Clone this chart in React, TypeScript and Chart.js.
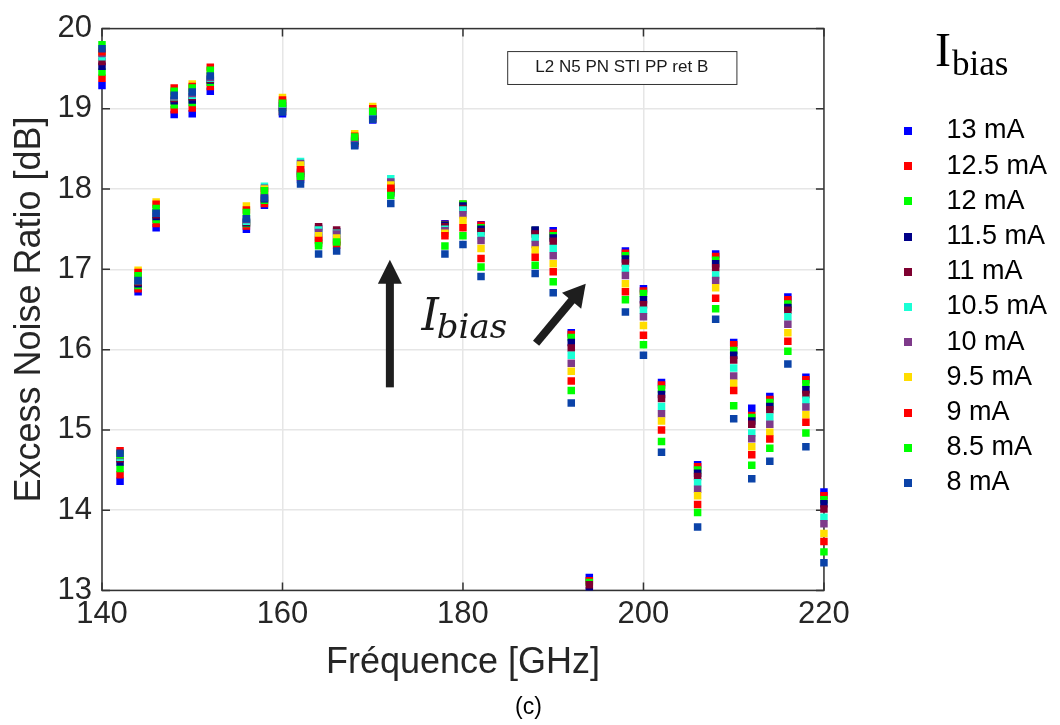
import React, { useEffect, useRef } from 'react';
import { Chart, registerables } from 'chart.js';

Chart.register(...registerables);

// ---------- data ----------
const frequencies = [140, 142, 144, 146, 148, 150, 152, 156, 158, 160, 162, 164, 166, 168, 170, 172, 178, 180, 182, 188, 190, 192, 194, 198, 200, 202, 206, 208, 210, 212, 214, 216, 218, 220];

const currents = ['13 mA', '12.5 mA', '12 mA', '11.5 mA', '11 mA', '10.5 mA', '10 mA', '9.5 mA', '9 mA', '8.5 mA', '8 mA'];

const colors = ['#0000ff', '#ff0000', '#00ff00', '#000088', '#7e0030', '#1affd5', '#7e3a8a', '#ffdd00', '#ff0000', '#00ff00', '#0b43a8'];

const enr13 = [19.29, 14.36, 16.72, 17.52, 18.93, 18.94, 19.22, 17.50, 17.80, 18.94, 18.12, 17.40, 17.37, 18.55, 18.86, 17.95, 17.57, 17.80, 17.555, 17.48, 17.48, 16.21, 13.16, 17.23, 16.76, 15.59, 14.565, 17.19, 16.09, 15.27, 15.415, 16.655, 15.655, 14.225];
const enr12_5 = [19.38, 14.44, 16.76, 17.57, 18.99, 19.01, 19.28, 17.54, 17.82, 18.97, 18.15, 17.37, 17.35, 18.57, 18.88, 17.97, 17.56, 17.81, 17.55, 17.48, 17.45, 16.19, 13.12, 17.20, 16.73, 15.56, 14.54, 17.16, 16.06, 15.18, 15.38, 16.62, 15.625, 14.18];
const enr12 = [19.46, 14.52, 16.80, 17.62, 19.05, 19.08, 19.33, 17.57, 17.86, 19.00, 18.18, 17.33, 17.33, 18.59, 18.90, 17.99, 17.55, 17.815, 17.52, 17.485, 17.42, 16.15, 13.10, 17.17, 16.70, 15.51, 14.50, 17.115, 15.99, 15.155, 15.34, 16.57, 15.575, 14.13];
const enr11_5 = [19.53, 14.60, 16.82, 17.66, 19.10, 19.11, 19.36, 17.58, 17.88, 19.02, 18.20, 17.51, 17.47, 18.60, 18.92, 18.00, 17.55, 17.79, 17.50, 17.49, 17.39, 16.09, 12.99, 17.13, 16.62, 15.44, 14.46, 17.07, 15.93, 15.11, 15.29, 16.525, 15.50, 14.08];
const enr11 = [19.59, 14.64, 16.84, 17.68, 19.13, 19.15, 19.37, 17.59, 17.90, 19.04, 18.22, 17.53, 17.49, 18.61, 18.94, 18.03, 17.53, 17.76, 17.47, 17.44, 17.35, 16.02, 13.07, 17.08, 16.56, 15.39, 14.42, 17.02, 15.87, 15.07, 15.25, 16.49, 15.44, 14.015];
const enr10_5 = [19.65, 14.66, 16.86, 17.70, 19.15, 19.17, 19.38, 17.60, 18.035, 19.06, 18.345, 17.49, 17.45, 18.62, 18.96, 18.13, 17.50, 17.74, 17.42, 17.39, 17.26, 15.93, 12.92, 17.01, 16.49, 15.29, 14.34, 16.93, 15.77, 14.96, 15.16, 16.41, 15.37, 13.91];
const enr10 = [19.69, 14.68, 16.88, 17.71, 19.16, 19.19, 19.39, 17.62, 18.01, 19.08, 18.32, 17.46, 17.44, 18.63, 18.98, 18.09, 17.48, 17.68, 17.36, 17.31, 17.17, 15.83, 12.82, 16.925, 16.41, 15.20, 14.26, 16.86, 15.67, 14.89, 15.07, 16.315, 15.285, 13.83];
const enr9_5 = [19.72, 14.70, 16.99, 17.84, 19.20, 19.31, 19.47, 17.79, 18.00, 19.14, 18.30, 17.42, 17.39, 18.69, 19.03, 18.05, 17.45, 17.61, 17.26, 17.24, 17.07, 15.73, 12.72, 16.82, 16.30, 15.11, 14.18, 16.77, 15.58, 14.79, 14.97, 16.21, 15.19, 13.71];
const enr9 = [19.71, 14.74, 16.96, 17.81, 19.26, 19.28, 19.52, 17.74, 17.98, 19.11, 18.24, 17.36, 17.30, 18.66, 19.00, 18.01, 17.42, 17.52, 17.135, 17.15, 16.97, 15.61, 12.60, 16.72, 16.18, 15.00, 14.07, 16.64, 15.49, 14.69, 14.885, 16.105, 15.095, 13.61];
const enr8_5 = [19.80, 14.69, 16.92, 17.76, 19.22, 19.26, 19.48, 17.71, 17.98, 19.07, 18.16, 17.295, 17.34, 18.65, 18.97, 17.92, 17.29, 17.42, 17.03, 17.05, 16.845, 15.49, 12.45, 16.62, 16.06, 14.855, 13.97, 16.51, 15.30, 14.56, 14.77, 15.98, 14.96, 13.48];
const enr8 = [19.75, 14.71, 16.86, 17.70, 19.17, 19.21, 19.41, 17.63, 17.89, 18.96, 18.065, 17.19, 17.23, 18.54, 18.87, 17.82, 17.19, 17.31, 16.91, 16.95, 16.71, 15.335, 12.30, 16.47, 15.93, 14.72, 13.79, 16.38, 15.14, 14.39, 14.61, 15.82, 14.79, 13.345];

const seriesValues = [enr13, enr12_5, enr12, enr11_5, enr11, enr10_5, enr10, enr9_5, enr9, enr8_5, enr8];

const xTicks = [140, 160, 180, 200, 220];
const yTicks = [13, 14, 15, 16, 17, 18, 19, 20];

const SANS = '"Liberation Sans", Arial, sans-serif';
const SERIF = '"Liberation Serif", "DejaVu Serif", serif';
const ITALIC_SERIF = '"DejaVu Serif", "Liberation Serif", serif';

function drawArrow(ctx: CanvasRenderingContext2D, x0: number, y0: number, x1: number, y1: number, shaftW: number, headL: number, headW: number) {
  const ang = Math.atan2(y1 - y0, x1 - x0);
  const len = Math.hypot(x1 - x0, y1 - y0);
  ctx.save();
  ctx.translate(x0, y0);
  ctx.rotate(ang);
  ctx.fillStyle = '#1e1e1e';
  ctx.fillRect(0, -shaftW / 2, len - headL + 1, shaftW);
  ctx.beginPath();
  ctx.moveTo(len, 0);
  ctx.lineTo(len - headL, -headW / 2);
  ctx.lineTo(len - headL, headW / 2);
  ctx.closePath();
  ctx.fill();
  ctx.restore();
}

export default function App() {
  const ref = useRef<HTMLCanvasElement>(null);

  useEffect(() => {
    const canvas = ref.current;
    if (!canvas) return;

    const swatches = colors.map((c) => {
      const s = document.createElement('canvas');
      s.width = 31;
      s.height = 8;
      const g = s.getContext('2d')!;
      g.fillStyle = c;
      g.fillRect(0, 0, 8, 8);
      return s;
    });

    const datasets = currents.map((label, i) => ({
      label,
      data: frequencies.map((f, j) => ({ x: f, y: seriesValues[i][j] })),
      backgroundColor: colors[i],
      borderColor: colors[i],
      borderWidth: 0,
      pointStyle: 'rect',
      pointRadius: 5.3,
      pointHoverRadius: 5.3,
      showLine: false,
      order: currents.length - 1 - i,
      clip: { left: false, right: false, top: false, bottom: 0 },
    }));

    const decorations = {
      id: 'decorations',
      beforeDatasetsDraw(chart: any) {
        const { ctx, chartArea } = chart;
        const { left, right, top, bottom } = chartArea;
        const xs = chart.scales.x;
        const ys = chart.scales.y;
        ctx.save();
        ctx.strokeStyle = '#333333';
        ctx.lineWidth = 1.5;
        ctx.strokeRect(left, top, right - left, bottom - top);
        ctx.beginPath();
        yTicks.forEach((v) => {
          const py = ys.getPixelForValue(v);
          ctx.moveTo(left, py); ctx.lineTo(left + 8, py);
          ctx.moveTo(right, py); ctx.lineTo(right - 8, py);
        });
        xTicks.forEach((v) => {
          const px = xs.getPixelForValue(v);
          ctx.moveTo(px, bottom); ctx.lineTo(px, bottom - 8);
          ctx.moveTo(px, top); ctx.lineTo(px, top + 8);
        });
        ctx.stroke();
        ctx.restore();
      },
      afterDatasetsDraw(chart: any) {
        const { ctx } = chart;
        const xs = chart.scales.x;
        const ys = chart.scales.y;
        const X = (v: number) => xs.getPixelForValue(v);
        const Y = (v: number) => ys.getPixelForValue(v);
        ctx.save();
        // annotation box
        const bx0 = X(184.9), bx1 = X(210.3), by0 = Y(19.72), by1 = Y(19.31);
        ctx.fillStyle = '#ffffff';
        ctx.fillRect(bx0, by0, bx1 - bx0, by1 - by0);
        ctx.strokeStyle = '#333333';
        ctx.lineWidth = 1;
        ctx.strokeRect(bx0 + 0.5, by0 + 0.5, bx1 - bx0, by1 - by0);
        ctx.fillStyle = '#1a1a1a';
        ctx.font = `17px ${SANS}`;
        ctx.textAlign = 'center';
        ctx.textBaseline = 'middle';
        ctx.fillText('L2 N5 PN STI PP ret B', (bx0 + bx1) / 2, (by0 + by1) / 2);

        // arrows
        drawArrow(ctx, X(171.9), Y(15.53), X(171.9), Y(17.12), 8, 24, 24);
        drawArrow(ctx, X(188.1), Y(16.08), X(193.6), Y(16.82), 8, 22, 25);

        // italic I_bias annotation
        ctx.textAlign = 'left';
        ctx.textBaseline = 'alphabetic';
        ctx.fillStyle = '#1a1a1a';
        const tx = X(175.4), ty = Y(16.25);
        ctx.font = `italic 44px ${ITALIC_SERIF}`;
        ctx.fillText('I', tx, ty);
        const iw = ctx.measureText('I').width;
        ctx.font = `italic 34px ${ITALIC_SERIF}`;
        ctx.fillText('bias', tx + iw - 2, ty + 8);

        // legend title
        ctx.fillStyle = '#000000';
        ctx.font = `48px ${SERIF}`;
        ctx.fillText('I', 935, 66);
        const iw2 = ctx.measureText('I').width;
        ctx.font = `35px ${SERIF}`;
        ctx.fillText('bias', 935 + iw2 + 1, 75);
        ctx.restore();
      },
    };

    const chart = new Chart(canvas, {
      type: 'scatter',
      data: { datasets: datasets as any },
      plugins: [decorations],
      options: {
        responsive: false,
        animation: false,
        events: [],
        layout: { padding: { left: 0, right: 3, top: 22, bottom: 0 } },
        scales: {
          x: {
            type: 'linear',
            min: 140,
            max: 220,
            afterBuildTicks: (axis: any) => { axis.ticks = xTicks.map((v) => ({ value: v })); },
            afterFit: (axis: any) => { axis.height = 103; },
            ticks: { color: '#262626', font: { size: 31, family: SANS }, padding: 5, maxRotation: 0 },
            grid: { color: '#e6e6e6', lineWidth: 1.5, drawTicks: false },
            border: { display: false },
            title: { display: true, text: 'Fréquence [GHz]', color: '#262626', font: { size: 36, family: SANS }, padding: { top: 0, bottom: 9 } },
          },
          y: {
            type: 'linear',
            min: 13,
            max: 20,
            afterBuildTicks: (axis: any) => { axis.ticks = yTicks.map((v) => ({ value: v })); },
            afterFit: (axis: any) => { axis.width = 102; },
            ticks: { color: '#262626', font: { size: 31, family: SANS }, padding: 10 },
            grid: { color: '#e6e6e6', lineWidth: 1.5, drawTicks: false },
            border: { display: false },
            title: { display: true, text: 'Excess Noise Ratio [dB]', color: '#262626', font: { size: 36, family: SANS }, padding: { top: 8, bottom: 0 } },
          },
          y2: {
            type: 'linear',
            position: 'right',
            display: true,
            afterFit: (axis: any) => { axis.width = 73.8; },
            ticks: { display: false },
            grid: { display: false, drawTicks: false },
            border: { display: false },
          },
        },
        plugins: {
          tooltip: { enabled: false },
          title: {
            display: true,
            position: 'bottom',
            text: '(c)',
            color: '#000000',
            font: { size: 23, family: SANS, weight: 'normal' },
            padding: { top: 0, bottom: 4 },
          },
          legend: {
            display: true,
            position: 'right',
            align: 'start',
            title: { display: true, text: '', font: { size: 12 }, padding: { top: 72.9, bottom: 0 } },
            labels: {
              color: '#000000',
              font: { size: 27, family: SANS },
              usePointStyle: true,
              boxWidth: 31,
              boxHeight: 8,
              padding: 8.2,
              generateLabels: (ch: any) =>
                ch.data.datasets.map((ds: any, i: number) => ({
                  text: ds.label,
                  fillStyle: colors[i],
                  strokeStyle: colors[i],
                  lineWidth: 0,
                  pointStyle: swatches[i],
                  hidden: false,
                  datasetIndex: i,
                  fontColor: '#000000',
                })),
            },
          },
        },
      } as any,
    });

    return () => chart.destroy();
  }, []);

  return (
    <div style={{ position: 'absolute', left: 0, top: 0, width: 1060, height: 725, background: '#ffffff' }}>
      <canvas ref={ref} width={1060} height={725} style={{ display: 'block' }} />
    </div>
  );
}
